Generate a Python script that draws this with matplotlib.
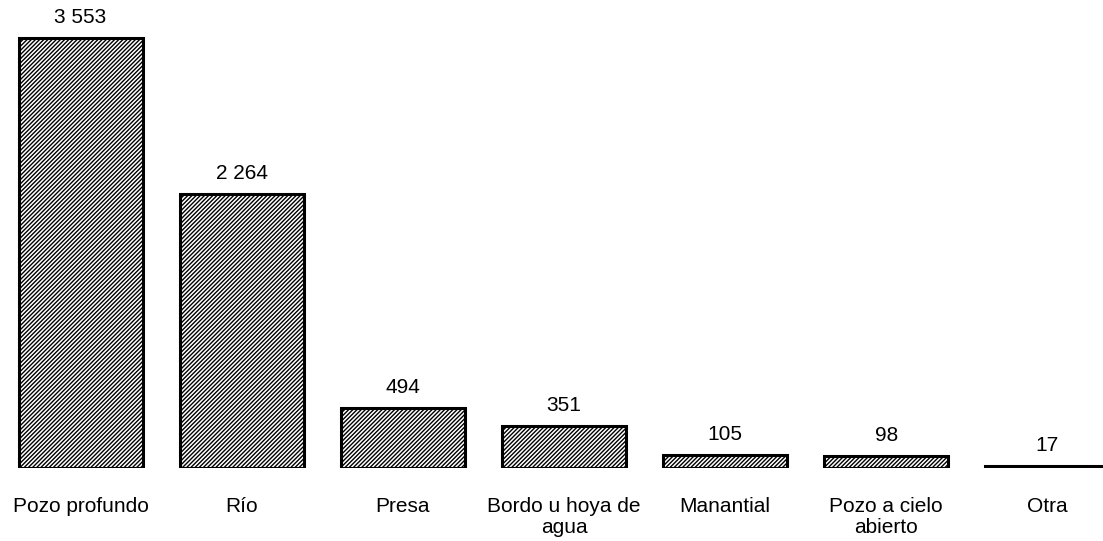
import matplotlib.pyplot as plt

plt.rcParams['font.family'] = ['Liberation Sans', 'DejaVu Sans']
plt.rcParams['hatch.linewidth'] = 1.0

categorias = ['Pozo profundo', 'Río', 'Presa', 'Bordo u hoya de\nagua',
              'Manantial', 'Pozo a cielo\nabierto', 'Otra']
valores = [3553, 2264, 494, 351, 105, 98, 17]
etiquetas = ['3 553', '2 264', '494', '351', '105', '98', '17']

W, H = 1103, 541
fig = plt.figure(figsize=(W / 100, H / 100), dpi=100)

# escala: 430 px para la barra mayor
px_unidad = 430 / 3553
ymax = 4000
ax = fig.add_axes([0, 73 / H, 1128 / W, ymax * px_unidad / H])

x = range(len(valores))
ax.bar(x, valores, width=0.77, color='white', edgecolor='black',
       linewidth=2.2, hatch='////////')

for i, (v, t) in enumerate(zip(valores, etiquetas)):
    ax.annotate(t, (i, v), xytext=(0, 11), textcoords='offset pixels',
                ha='center', va='bottom', fontsize=15)

ax.set_xlim(-0.5, 6.5)
ax.set_ylim(0, ymax)
ax.set_xticks(list(x))
ax.set_xticklabels(categorias, fontsize=15, va='top', linespacing=1.1)
ax.tick_params(axis='x', length=0, pad=21)
ax.set_yticks([])
for s in ax.spines.values():
    s.set_visible(False)

fig.savefig('out.png', dpi=100)
